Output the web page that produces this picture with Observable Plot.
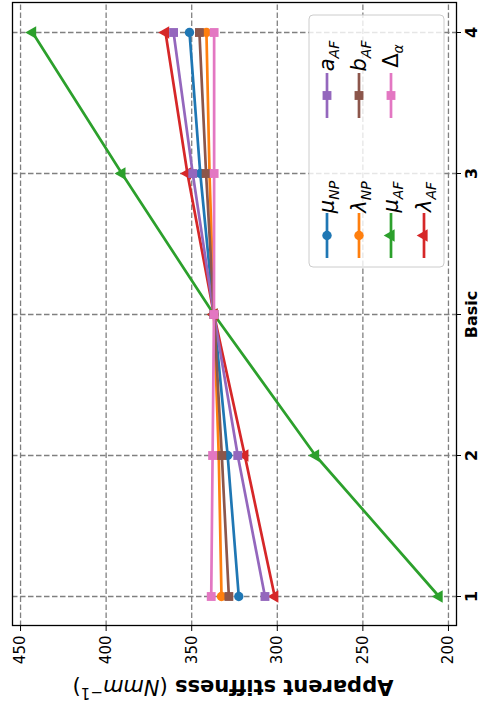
<!DOCTYPE html>
<html><head><meta charset="utf-8">
<script src="https://cdn.jsdelivr.net/npm/d3@7"></script>
<script src="https://cdn.jsdelivr.net/npm/@observablehq/plot@0.6"></script>
<style>
html,body{margin:0;padding:0;background:#fff;width:491px;height:719px;overflow:hidden;}
#fig{position:absolute;left:0;top:0;width:719px;height:491px;transform-origin:0 0;transform:translate(0px,719px) rotate(-90deg);}
</style></head><body><div id="fig"></div>
<script>
// ---- data ----
const categories = ["1", "2", "Basic", "3", "4"];
const muNP       = [322.5, 329.0, 337.0, 345.0, 351.3];
const lambdaNP   = [332.6, 334.2, 337.0, 339.6, 341.4];
const muAF       = [205.5, 277.7, 337.0, 390.8, 443.0];
const lambdaAF   = [301.5, 319.0, 337.0, 352.5, 365.3];
const aAF        = [307.2, 323.1, 337.0, 349.4, 360.6];
const bAF        = [328.3, 332.4, 337.0, 341.6, 345.5];
const deltaAlpha = [338.6, 337.8, 337.0, 336.9, 336.9];
const seriesKeys = ["muNP", "lambdaNP", "muAF", "lambdaAF", "aAF", "bAF", "deltaAlpha"];
const seriesValues = [muNP, lambdaNP, muAF, lambdaAF, aAF, bAF, deltaAlpha];
const legendMain = ["μ", "λ", "μ", "λ", "a", "b", "Δ"];
const legendSub  = ["NP", "NP", "AF", "AF", "AF", "AF", "α"];
const stiffTicks = [200, 250, 300, 350, 400, 450];
const colors = ["#1f77b4", "#ff7f0e", "#2ca02c", "#d62728", "#9467bd", "#8c564b", "#e377c2"];
const symbols = ["circle", "circle", "triangle", "triangle", "square", "square", "square"];

const rows = [];
seriesKeys.forEach((k, i) => categories.forEach((c, j) => rows.push({series: k, cat: c, value: seriesValues[i][j]})));

const W = 719, H = 491;
const FONT = "DejaVu Sans";

const seriesMarks = seriesKeys.flatMap((k, i) => {
  const d = rows.filter(r => r.series === k);
  return [
    Plot.line(d, {x: "cat", y: "value", stroke: colors[i], strokeWidth: 2.7}),
    Plot.dot(d, {x: "cat", y: "value", fill: colors[i], stroke: "none", symbol: symbols[i], r: symbols[i] === "square" ? 5 : 4.7})
  ];
});

const svg = Plot.plot({
  width: W, height: H,
  marginLeft: 93, marginRight: 3, marginTop: 12, marginBottom: 35,
  style: {fontFamily: FONT, fontSize: "15px", color: "black", background: "white", overflow: "visible"},
  x: {type: "point", domain: categories, range: [121, 687], padding: 0},
  y: {domain: [195.3, 454.7], range: [456, 12]},
  marks: [
    Plot.gridX({stroke: "#808080", strokeOpacity: 1, strokeWidth: 1.3, strokeDasharray: "5.5,2.5"}),
    Plot.gridY(stiffTicks, {stroke: "#808080", strokeOpacity: 1, strokeWidth: 1.3, strokeDasharray: "5.5,2.5"}),
    ...seriesMarks,
    Plot.frame({stroke: "black", strokeWidth: 1.3}),
    Plot.axisX({anchor: "bottom", tickSize: 5, tickPadding: 4, fontSize: 16, fontWeight: "bold", label: null}),
    Plot.axisY(stiffTicks, {anchor: "left", tickSize: 5, tickPadding: 5, fontSize: 15, label: null})
  ]
});

const g = d3.select(svg);

// axis label
const lab = g.append("text")
  .attr("transform", "translate(39,233) rotate(-90)")
  .attr("text-anchor", "middle")
  .attr("font-family", FONT)
  .attr("font-size", 21)
  .attr("fill", "black");
lab.append("tspan").attr("font-weight", "bold").text("Apparent stiffness ");
lab.append("tspan").text("(");
lab.append("tspan").attr("font-style", "italic").text("Nmm");
lab.append("tspan").attr("font-size", 15).attr("dy", -8).text("−1");
lab.append("tspan").attr("dy", 8).text(")");

// legend
const lg = g.append("g");
lg.append("rect")
  .attr("x", 452).attr("y", 309).attr("width", 252).attr("height", 135)
  .attr("rx", 4).attr("fill", "white").attr("fill-opacity", 0.8)
  .attr("stroke", "#cccccc").attr("stroke-width", 1);
const colX = [[461, 506, 522], [601, 646, 663]];
const rowY = [327, 359, 391, 424];
seriesKeys.forEach((k, i) => {
  const col = i < 4 ? 0 : 1;
  const row = i < 4 ? i : i - 4;
  const [x0, x1, tx] = colX[col];
  const y = rowY[row];
  lg.append("line").attr("x1", x0).attr("x2", x1).attr("y1", y).attr("y2", y)
    .attr("stroke", colors[i]).attr("stroke-width", 2.7);
  const s = symbols[i];
  const sym = s === "circle" ? d3.symbolCircle : s === "square" ? d3.symbolSquare : d3.symbolTriangle;
  const r = s === "square" ? 5 : 4.7;
  lg.append("path").attr("d", d3.symbol(sym, Math.PI * r * r)())
    .attr("transform", `translate(${(x0 + x1) / 2},${y})`).attr("fill", colors[i]);
  const t = lg.append("text").attr("x", tx).attr("y", y + 7)
    .attr("font-family", FONT).attr("font-size", 21).attr("fill", "black");
  t.append("tspan").attr("font-style", legendMain[i] === "Δ" ? "normal" : "italic").text(legendMain[i]);
  t.append("tspan").attr("font-style", "italic").attr("font-size", 14).attr("dy", 5).text(legendSub[i]);
});

document.getElementById("fig").appendChild(svg);
</script>
</body></html>
